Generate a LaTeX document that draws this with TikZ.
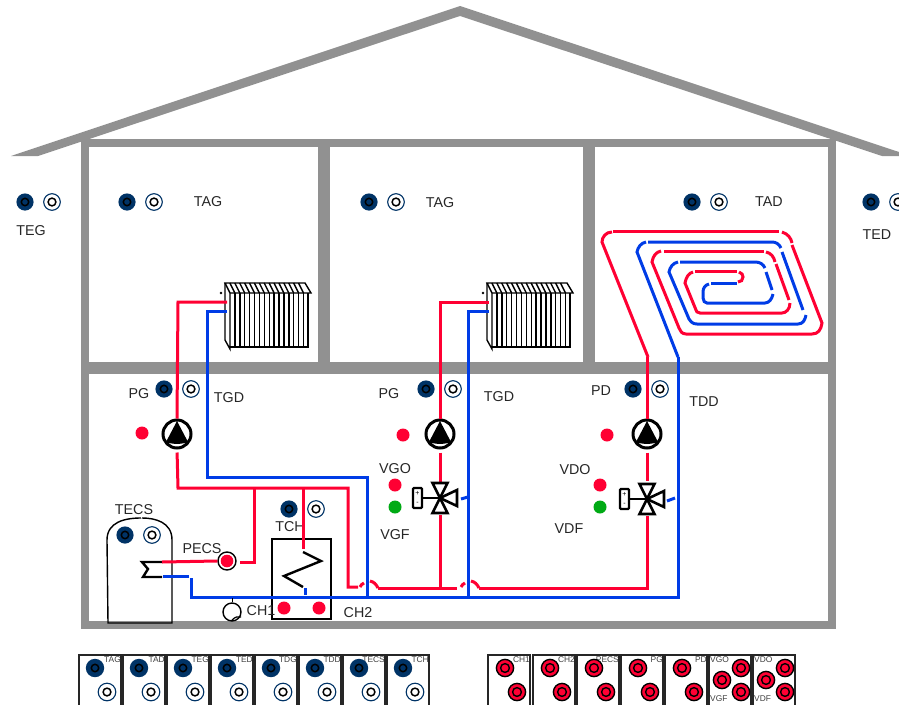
\documentclass[tikz,border=0pt]{standalone}
\usepackage{fontspec}
\setmainfont{Liberation Sans}
\usetikzlibrary{calc}
\definecolor{wallc}{RGB}{145,145,145}
\definecolor{hotc}{RGB}{255,0,51}
\definecolor{coldc}{RGB}{0,60,230}
\definecolor{navyc}{RGB}{0,51,102}
\definecolor{greenc}{RGB}{0,170,20}
\tikzset{
  wall/.style={draw=wallc,line width=8pt},
  iwall/.style={draw=wallc,line width=12pt},
  hot/.style={draw=hotc,line width=3pt},
  cold/.style={draw=coldc,line width=3pt},
  lab/.style={inner sep=0pt,font=\fontsize{14.3}{14.3}\selectfont,text=black!85},
  tiny/.style={inner sep=0pt,font=\fontsize{8.4}{9}\selectfont,text=black!75},
  pumpc/.style={circle,draw=black,line width=3pt,fill=white,minimum size=28pt,inner sep=0pt},
  reddot/.style={circle,fill=hotc,minimum size=13pt,inner sep=0pt},
  greendot/.style={circle,fill=greenc,minimum size=13pt,inner sep=0pt},
  panel/.style={draw=black!85,line width=1.5pt,fill=white},
  blk/.style={draw=black,line width=1.4pt},
  coil/.style={draw=black,line width=2.4pt},
}
\newcommand{\snsA}[3]{\fill[navyc] (#1,#2) circle (#3);\draw[black,line width=1.5pt] (#1,#2) circle (3.7pt);}
\newcommand{\snsB}[3]{\draw[navyc,line width=1.1pt,fill=white] (#1,#2) circle (#3);\draw[black,line width=1.5pt] (#1,#2) circle (3.9pt);}
\newcommand{\snsR}[2]{\draw[black,line width=1.4pt,fill=hotc] (#1,#2) circle (8.6pt);\draw[black,line width=1.4pt] (#1,#2) circle (4.4pt);}
\newcommand{\pair}[3]{\snsA{#1}{#3}{8.6pt}\snsB{#2}{#3}{8.3pt}}
\newcommand{\radiator}[2]{%
 \begin{scope}[shift={(#1,#2)}]
  \draw[blk] (5,10)--(0,0)--(80,0)--(86,10)--(5,10);
  \draw[blk] (0,0)--(0,57)--(5,66)--(5,10);
  \draw[blk] (5,64)--(83,64)--(83,10);
  \foreach \i in {1,...,15}{\draw[blk] ({5+\i*4.9},10)--({5+\i*4.9},64);\draw[blk] ({\i*4.9},0)--({5+\i*4.9},10);}
 \end{scope}}
\newcommand{\pumpdraw}[1]{\fill[black] ($(#1)+(0,-13)$)--($(#1)+(11,8)$) .. controls ($(#1)+(5,10.5)$) and ($(#1)+(-5,10.5)$) .. ($(#1)+(-11,8)$)--cycle;}
\newcommand{\valve}[3]{%
 \begin{scope}[shift={(#1,#2)}]
  \draw[black,line width=2.6pt,fill=white] (0,0)--(-7.5,-15)--(7.5,-15)--cycle;
  \draw[black,line width=2.6pt,fill=white] (0,0)--(-7.5,15)--(7.5,15)--cycle;
  \draw[black,line width=2.6pt,fill=white] (0,0)--(#3,-8)--(#3,8)--cycle;
  \draw[black,line width=2.6pt] (0,0)--(-18,0);
  \draw[black,line width=2.4pt,fill=white,rounded corners=1pt] (-27,-10) rectangle (-18,10);
  \node[inner sep=0pt,font=\fontsize{7}{7}\selectfont] at (-22.5,-4.5) {+};
  \node[inner sep=0pt,font=\fontsize{7}{7}\selectfont] at (-22.5,5) {-};
 \end{scope}}
\newcommand{\bluebox}[2]{\draw[panel] (#1,655) rectangle ++(42,60);
  \node[tiny,anchor=east] at ($(#1,660)+(42,0)$) {#2};
  \snsA{#1+16}{668}{9.2pt}\snsB{#1+28}{692}{8.8pt}}
\newcommand{\redbox}[2]{\draw[panel] (#1,655) rectangle ++(42,60);
  \node[tiny,anchor=east] at ($(#1,660)+(42,0)$) {#2};
  \snsR{#1+17}{668}\snsR{#1+29}{692}}
\newcommand{\valvebox}[3]{\draw[panel] (#1,655) rectangle ++(42,60);
  \node[tiny,anchor=west] at ($(#1,660)+(1,0)$) {#2};
  \node[tiny,anchor=west] at ($(#1,699)+(1,0)$) {#3};
  \snsR{#1+32}{668}\snsR{#1+13}{680}\snsR{#1+32}{692}}
\begin{document}
\begin{tikzpicture}[x=1pt,y=-1pt]
\useasboundingbox (0,0) rectangle (899,704);
\fill[wallc] (11,156)--(460,6)--(899,152)--(899,156)--(882,156)--(460,16)--(38,156)--cycle;
\draw[wall] (85,143) rectangle (832,625);
\draw[iwall] (85,368)--(832,368);
\draw[iwall] (324,143)--(324,368);
\draw[iwall] (588.5,143)--(588.5,368);
\pair{25}{52}{202}
\node[lab] (teg) at (31,231) {TEG};
\pair{127}{154}{202}
\node[lab] (tag1) at (208,202) {TAG};
\pair{369}{396}{202}
\node[lab] (tag2) at (440,203) {TAG};
\pair{692}{719}{202}
\node[lab] (tad) at (769,202) {TAD};
\pair{871}{898}{202}
\node[lab] (ted) at (877,235) {TED};
\pair{164}{191}{389}
\pair{426}{453}{389}
\pair{633}{660}{389}
\node[lab] (pg1) at (139,394) {PG};
\node[lab] (pg2) at (389,394) {PG};
\node[lab] (pd) at (601,391) {PD};
\node[lab] (tgd1) at (229,398) {TGD};
\node[lab] (tgd2) at (499,397) {TGD};
\node[lab] (tdd) at (704,402) {TDD};
\node[lab] (vgo) at (395,469) {VGO};
\node[lab] (vgf) at (395,535) {VGF};
\node[lab] (vdo) at (575,470) {VDO};
\node[lab] (vdf) at (569,529) {VDF};
\node[reddot] (d1) at (142,433) {};
\node[reddot] (d2) at (403,435) {};
\node[reddot] (d3) at (607,435) {};
\node[reddot] (d4) at (395,485) {};
\node[greendot] (d5) at (395,507) {};
\node[reddot] (d6) at (600,485) {};
\node[greendot] (d7) at (600,507) {};
\radiator{225}{283}
\radiator{487}{283}
\fill (221,293) circle (1.4pt);
\fill (483,293) circle (1.4pt);
% tank
\draw[blk] (141,518) .. controls (125,518) and (107,522) .. (107,540)--(108,623)--(172,623)--(172,540) .. controls (172,522) and (155,518) .. (142,518);
\node[lab] (tecs) at (134,510) {TECS};
\pair{125}{152}{535}
\pair{289}{316}{509}
\node[lab] (tch) at (290,527) {TCH};
\draw[blk] (272,539) rectangle (331,619);
\node[lab] (pecs) at (202,549) {PECS};
\node[lab] (ch1) at (261,611) {CH1};
\node[lab] (ch2) at (358,613) {CH2};
% named points
\coordinate (r1h) at (227,302); \coordinate (r1c) at (227,311);
\coordinate (r2h) at (489,302); \coordinate (r2c) at (489,311);
\node[pumpc] (p1) at (177,434) {};
\node[pumpc] (p2) at (440,434) {};
\node[pumpc] (p3) at (647,434) {};
\pumpdraw{p1}\pumpdraw{p2}\pumpdraw{p3}
\node[circle,draw=black,line width=1.4pt,fill=white,minimum size=18pt,inner sep=0pt] (pecsp) at (227,561) {};
\fill[hotc] (pecsp) circle (6.3pt);
\node[circle,draw=black,line width=1.4pt,fill=white,minimum size=18pt,inner sep=0pt] (chp) at (232,612) {};
\draw[black,line width=1.2pt] (232,620) .. controls (235,617) and (238,616) .. (241,617);
\coordinate (m1) at (178,488); \coordinate (m2) at (348,488);
% heat exchanger
\draw[coil] (303,552)--(321,561)--(284,576)--(303,587);
% tank coil
\draw[coil] (162,562)--(142,562)--(148,569)--(143,577)--(162,577);
% cold
\draw[cold] (r1c)--(207,311)--(207,477)--(367,477)--(367,597);
\draw[cold] (r2c)--(468,311)--(468,597);
\draw[cold] (163,576)--(189,576);
\draw[cold] (191,578)--(191,597)--(678,597)--(678,357);
\draw[cold] (305,588)--(305,595);
\draw[black,line width=1pt] (232,598)--(chp.north);
\draw[cold] (461,499)--(468,497);
\draw[cold] (667,501)--(675,498);
% hot
\draw[hot] (r1h)--(178,302)--(p1.north);
\draw[hot,shorten <=3pt] (p1.south)--(m1)--(m2)--(348,587)--(358,587);
\draw[hot] (254,488)--(254,562)--(240,562);
\draw[hot] (pecsp.west)--(162,562);
\draw[hot] (303,488)--(303,549);
\draw[hot] (360,587) .. controls (361,585) and (362,584) .. (364,583);
\draw[hot] (370,581) .. controls (374,582) and (376,584) .. (378,588);
\draw[hot] (378,588)--(457,588);
\draw[hot] (461,587) .. controls (462,585) and (463,584) .. (465,583);
\draw[hot] (471,581) .. controls (475,582) and (477,584) .. (479,588);
\draw[hot] (479,588)--(647,588)--(647,516);
\draw[hot] (440,515)--(440,588);
\draw[hot] (r2h)--(440,302)--(p2.north);
\draw[hot,shorten <=3pt] (p2.south)--(440,482);
\draw[hot] (647,357)--(p3.north);
\draw[hot,shorten <=3pt] (p3.south)--(647,481);
% valves
\valve{440}{498}{17}
\valve{647}{499}{17}
% red dots in TCH
\node[reddot] (d8) at (284,608) {};
\node[reddot] (d9) at (319,608) {};
% floor heating: hot
\draw[hot] (648,357)--(602,242) .. controls (602,237) and (606,232) .. (612,232);
\draw[hot] (613,231)--(779,231);
\draw[hot] (782,232) .. controls (788,234) and (791,238) .. (792,243);
\draw[hot] (792,245)--(822,323) .. controls (821,330) and (818,334) .. (812,334)--(686,334) .. controls (682,334) and (680,331) .. (679,328)--(652,262) .. controls (653,256) and (656,252) .. (661,251);
\draw[hot] (664,251)--(764,251);
\draw[hot] (766,252) .. controls (771,253) and (774,257) .. (775,262);
\draw[hot] (776,264)--(789,300);
\draw[hot] (790,303) .. controls (790,309) and (786,313) .. (782,313)--(700,313) .. controls (697,313) and (696,311) .. (696,310)--(685,283) .. controls (686,277) and (689,273) .. (693,272);
\draw[hot] (695,271)--(737,271);
\draw[hot] (739,272) .. controls (742,273) and (743,275) .. (743,277) .. controls (743,280) and (741,282) .. (738,282);
% floor heating: cold
\draw[cold] (711,283)--(737,283);
\draw[cold] (709,284) .. controls (705,285) and (703,288) .. (703,292)--(703,298) .. controls (703,301) and (705,303) .. (707,303)--(765,303) .. controls (769,303) and (772,299) .. (773,294);
\draw[cold] (772,290)--(766,272);
\draw[cold] (765,268) .. controls (763,264) and (760,262) .. (755,262)--(680,262);
\draw[cold] (678,262) .. controls (673,263) and (670,267) .. (669,272)--(689,319) .. controls (691,322) and (693,324) .. (697,324)--(798,324) .. controls (803,324) and (805,320) .. (806,315);
\draw[cold] (803,310)--(782,252);
\draw[cold] (781,248) .. controls (779,244) and (776,242) .. (772,242)--(648,242);
\draw[cold] (646,242) .. controls (641,243) and (638,247) .. (637,252)--(678,357);
% bottom panels
\bluebox{79}{TAG}\bluebox{123}{TAD}\bluebox{167}{TEG}\bluebox{211}{TED}
\bluebox{255}{TDG}\bluebox{299}{TDD}\bluebox{343}{TECS}\bluebox{387}{TCH}
\redbox{488}{CH1}\redbox{533}{CH2}\redbox{577}{PECS}\redbox{621}{PG}\redbox{665}{PD}
\valvebox{709}{VGO}{VGF}\valvebox{753}{VDO}{VDF}
\end{tikzpicture}
\end{document}
